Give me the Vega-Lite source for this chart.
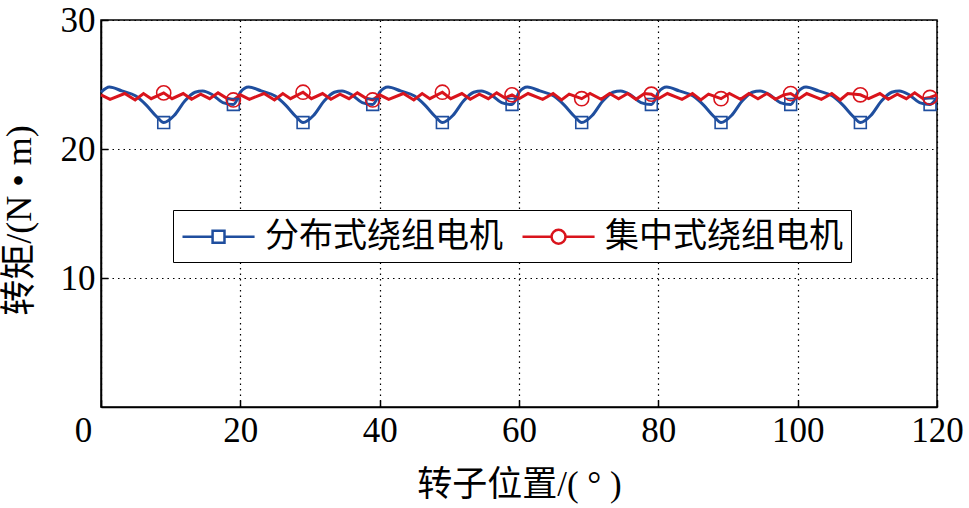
{
  "$schema": "https://vega.github.io/schema/vega-lite/v6.json",
  "autosize": {"type": "none"},
  "padding": {"left": 101, "top": 20, "right": 32, "bottom": 101},
  "width": 836,
  "height": 387,
  "background": "white",
  "config": {
    "view": {"stroke": "black", "strokeWidth": 1.5},
    "font": "Liberation Serif, Noto Sans CJK SC"
  },
  "datasets": {
    "curves": [
      {"series": "分布式绕组电机", "angle": 0, "torque": 24.4},
      {"series": "分布式绕组电机", "angle": 1.2, "torque": 24.8},
      {"series": "分布式绕组电机", "angle": 3, "torque": 24.5},
      {"series": "分布式绕组电机", "angle": 5, "torque": 24.1},
      {"series": "分布式绕组电机", "angle": 6.5, "torque": 23.4},
      {"series": "分布式绕组电机", "angle": 8, "torque": 22.5},
      {"series": "分布式绕组电机", "angle": 9, "torque": 22.05},
      {"series": "分布式绕组电机", "angle": 10.5, "torque": 22.6},
      {"series": "分布式绕组电机", "angle": 12, "torque": 23.7},
      {"series": "分布式绕组电机", "angle": 13.5, "torque": 24.4},
      {"series": "分布式绕组电机", "angle": 14.6, "torque": 24.5},
      {"series": "分布式绕组电机", "angle": 16, "torque": 24.2},
      {"series": "分布式绕组电机", "angle": 17.5, "torque": 23.6},
      {"series": "分布式绕组电机", "angle": 19, "torque": 23.45},
      {"series": "分布式绕组电机", "angle": 19.6, "torque": 23.9},
      {"series": "分布式绕组电机", "angle": 20, "torque": 24.4},
      {"series": "分布式绕组电机", "angle": 21.2, "torque": 24.8},
      {"series": "分布式绕组电机", "angle": 23, "torque": 24.5},
      {"series": "分布式绕组电机", "angle": 25, "torque": 24.1},
      {"series": "分布式绕组电机", "angle": 26.5, "torque": 23.4},
      {"series": "分布式绕组电机", "angle": 28, "torque": 22.5},
      {"series": "分布式绕组电机", "angle": 29, "torque": 22.05},
      {"series": "分布式绕组电机", "angle": 30.5, "torque": 22.6},
      {"series": "分布式绕组电机", "angle": 32, "torque": 23.7},
      {"series": "分布式绕组电机", "angle": 33.5, "torque": 24.4},
      {"series": "分布式绕组电机", "angle": 34.6, "torque": 24.5},
      {"series": "分布式绕组电机", "angle": 36, "torque": 24.2},
      {"series": "分布式绕组电机", "angle": 37.5, "torque": 23.6},
      {"series": "分布式绕组电机", "angle": 39, "torque": 23.45},
      {"series": "分布式绕组电机", "angle": 39.6, "torque": 23.9},
      {"series": "分布式绕组电机", "angle": 40, "torque": 24.4},
      {"series": "分布式绕组电机", "angle": 41.2, "torque": 24.8},
      {"series": "分布式绕组电机", "angle": 43, "torque": 24.5},
      {"series": "分布式绕组电机", "angle": 45, "torque": 24.1},
      {"series": "分布式绕组电机", "angle": 46.5, "torque": 23.4},
      {"series": "分布式绕组电机", "angle": 48, "torque": 22.5},
      {"series": "分布式绕组电机", "angle": 49, "torque": 22.05},
      {"series": "分布式绕组电机", "angle": 50.5, "torque": 22.6},
      {"series": "分布式绕组电机", "angle": 52, "torque": 23.7},
      {"series": "分布式绕组电机", "angle": 53.5, "torque": 24.4},
      {"series": "分布式绕组电机", "angle": 54.6, "torque": 24.5},
      {"series": "分布式绕组电机", "angle": 56, "torque": 24.2},
      {"series": "分布式绕组电机", "angle": 57.5, "torque": 23.6},
      {"series": "分布式绕组电机", "angle": 59, "torque": 23.45},
      {"series": "分布式绕组电机", "angle": 59.6, "torque": 23.9},
      {"series": "分布式绕组电机", "angle": 60, "torque": 24.4},
      {"series": "分布式绕组电机", "angle": 61.2, "torque": 24.8},
      {"series": "分布式绕组电机", "angle": 63, "torque": 24.5},
      {"series": "分布式绕组电机", "angle": 65, "torque": 24.1},
      {"series": "分布式绕组电机", "angle": 66.5, "torque": 23.4},
      {"series": "分布式绕组电机", "angle": 68, "torque": 22.5},
      {"series": "分布式绕组电机", "angle": 69, "torque": 22.05},
      {"series": "分布式绕组电机", "angle": 70.5, "torque": 22.6},
      {"series": "分布式绕组电机", "angle": 72, "torque": 23.7},
      {"series": "分布式绕组电机", "angle": 73.5, "torque": 24.4},
      {"series": "分布式绕组电机", "angle": 74.6, "torque": 24.5},
      {"series": "分布式绕组电机", "angle": 76, "torque": 24.2},
      {"series": "分布式绕组电机", "angle": 77.5, "torque": 23.6},
      {"series": "分布式绕组电机", "angle": 79, "torque": 23.45},
      {"series": "分布式绕组电机", "angle": 79.6, "torque": 23.9},
      {"series": "分布式绕组电机", "angle": 80, "torque": 24.4},
      {"series": "分布式绕组电机", "angle": 81.2, "torque": 24.8},
      {"series": "分布式绕组电机", "angle": 83, "torque": 24.5},
      {"series": "分布式绕组电机", "angle": 85, "torque": 24.1},
      {"series": "分布式绕组电机", "angle": 86.5, "torque": 23.4},
      {"series": "分布式绕组电机", "angle": 88, "torque": 22.5},
      {"series": "分布式绕组电机", "angle": 89, "torque": 22.05},
      {"series": "分布式绕组电机", "angle": 90.5, "torque": 22.6},
      {"series": "分布式绕组电机", "angle": 92, "torque": 23.7},
      {"series": "分布式绕组电机", "angle": 93.5, "torque": 24.4},
      {"series": "分布式绕组电机", "angle": 94.6, "torque": 24.5},
      {"series": "分布式绕组电机", "angle": 96, "torque": 24.2},
      {"series": "分布式绕组电机", "angle": 97.5, "torque": 23.6},
      {"series": "分布式绕组电机", "angle": 99, "torque": 23.45},
      {"series": "分布式绕组电机", "angle": 99.6, "torque": 23.9},
      {"series": "分布式绕组电机", "angle": 100, "torque": 24.4},
      {"series": "分布式绕组电机", "angle": 101.2, "torque": 24.8},
      {"series": "分布式绕组电机", "angle": 103, "torque": 24.5},
      {"series": "分布式绕组电机", "angle": 105, "torque": 24.1},
      {"series": "分布式绕组电机", "angle": 106.5, "torque": 23.4},
      {"series": "分布式绕组电机", "angle": 108, "torque": 22.5},
      {"series": "分布式绕组电机", "angle": 109, "torque": 22.05},
      {"series": "分布式绕组电机", "angle": 110.5, "torque": 22.6},
      {"series": "分布式绕组电机", "angle": 112, "torque": 23.7},
      {"series": "分布式绕组电机", "angle": 113.5, "torque": 24.4},
      {"series": "分布式绕组电机", "angle": 114.6, "torque": 24.5},
      {"series": "分布式绕组电机", "angle": 116, "torque": 24.2},
      {"series": "分布式绕组电机", "angle": 117.5, "torque": 23.6},
      {"series": "分布式绕组电机", "angle": 119, "torque": 23.45},
      {"series": "分布式绕组电机", "angle": 120, "torque": 24.0},

      {"series": "集中式绕组电机", "angle": 0, "torque": 24.2},
      {"series": "集中式绕组电机", "angle": 1.3, "torque": 23.85},
      {"series": "集中式绕组电机", "angle": 3.4, "torque": 24.3},
      {"series": "集中式绕组电机", "angle": 4.9, "torque": 23.8},
      {"series": "集中式绕组电机", "angle": 6.1, "torque": 24.3},
      {"series": "集中式绕组电机", "angle": 7.2, "torque": 23.9},
      {"series": "集中式绕组电机", "angle": 9, "torque": 24.35},
      {"series": "集中式绕组电机", "angle": 10.2, "torque": 23.9},
      {"series": "集中式绕组电机", "angle": 11.8, "torque": 24.3},
      {"series": "集中式绕组电机", "angle": 13, "torque": 23.85},
      {"series": "集中式绕组电机", "angle": 14.3, "torque": 24.25},
      {"series": "集中式绕组电机", "angle": 15.6, "torque": 23.9},
      {"series": "集中式绕组电机", "angle": 16.8, "torque": 24.35},
      {"series": "集中式绕组电机", "angle": 18, "torque": 23.95},
      {"series": "集中式绕组电机", "angle": 19, "torque": 23.8},
      {"series": "集中式绕组电机", "angle": 20, "torque": 24.2},
      {"series": "集中式绕组电机", "angle": 21.3, "torque": 23.85},
      {"series": "集中式绕组电机", "angle": 23.4, "torque": 24.3},
      {"series": "集中式绕组电机", "angle": 24.9, "torque": 23.8},
      {"series": "集中式绕组电机", "angle": 26.1, "torque": 24.3},
      {"series": "集中式绕组电机", "angle": 27.2, "torque": 23.9},
      {"series": "集中式绕组电机", "angle": 29, "torque": 24.4},
      {"series": "集中式绕组电机", "angle": 30.2, "torque": 23.9},
      {"series": "集中式绕组电机", "angle": 31.8, "torque": 24.3},
      {"series": "集中式绕组电机", "angle": 33, "torque": 23.85},
      {"series": "集中式绕组电机", "angle": 34.3, "torque": 24.25},
      {"series": "集中式绕组电机", "angle": 35.6, "torque": 23.9},
      {"series": "集中式绕组电机", "angle": 36.8, "torque": 24.35},
      {"series": "集中式绕组电机", "angle": 38, "torque": 23.95},
      {"series": "集中式绕组电机", "angle": 39, "torque": 23.8},
      {"series": "集中式绕组电机", "angle": 40, "torque": 24.2},
      {"series": "集中式绕组电机", "angle": 41.3, "torque": 23.85},
      {"series": "集中式绕组电机", "angle": 43.4, "torque": 24.3},
      {"series": "集中式绕组电机", "angle": 44.9, "torque": 23.8},
      {"series": "集中式绕组电机", "angle": 46.1, "torque": 24.3},
      {"series": "集中式绕组电机", "angle": 47.2, "torque": 23.9},
      {"series": "集中式绕组电机", "angle": 49, "torque": 24.4},
      {"series": "集中式绕组电机", "angle": 50.2, "torque": 23.9},
      {"series": "集中式绕组电机", "angle": 51.8, "torque": 24.3},
      {"series": "集中式绕组电机", "angle": 53, "torque": 23.85},
      {"series": "集中式绕组电机", "angle": 54.3, "torque": 24.25},
      {"series": "集中式绕组电机", "angle": 55.6, "torque": 23.9},
      {"series": "集中式绕组电机", "angle": 56.8, "torque": 24.35},
      {"series": "集中式绕组电机", "angle": 58, "torque": 23.95},
      {"series": "集中式绕组电机", "angle": 59, "torque": 24.2},
      {"series": "集中式绕组电机", "angle": 60, "torque": 23.9},
      {"series": "集中式绕组电机", "angle": 61.3, "torque": 24.3},
      {"series": "集中式绕组电机", "angle": 63.4, "torque": 23.85},
      {"series": "集中式绕组电机", "angle": 64.9, "torque": 24.3},
      {"series": "集中式绕组电机", "angle": 66.1, "torque": 23.8},
      {"series": "集中式绕组电机", "angle": 67.2, "torque": 24.25},
      {"series": "集中式绕组电机", "angle": 69, "torque": 23.9},
      {"series": "集中式绕组电机", "angle": 70.2, "torque": 24.3},
      {"series": "集中式绕组电机", "angle": 71.8, "torque": 23.85},
      {"series": "集中式绕组电机", "angle": 73, "torque": 24.3},
      {"series": "集中式绕组电机", "angle": 74.3, "torque": 23.9},
      {"series": "集中式绕组电机", "angle": 75.6, "torque": 24.3},
      {"series": "集中式绕组电机", "angle": 76.8, "torque": 23.85},
      {"series": "集中式绕组电机", "angle": 78, "torque": 24.3},
      {"series": "集中式绕组电机", "angle": 79, "torque": 24.25},
      {"series": "集中式绕组电机", "angle": 80, "torque": 23.9},
      {"series": "集中式绕组电机", "angle": 81.3, "torque": 24.3},
      {"series": "集中式绕组电机", "angle": 83.4, "torque": 23.85},
      {"series": "集中式绕组电机", "angle": 84.9, "torque": 24.3},
      {"series": "集中式绕组电机", "angle": 86.1, "torque": 23.8},
      {"series": "集中式绕组电机", "angle": 87.2, "torque": 24.25},
      {"series": "集中式绕组电机", "angle": 89, "torque": 23.9},
      {"series": "集中式绕组电机", "angle": 90.2, "torque": 24.3},
      {"series": "集中式绕组电机", "angle": 91.8, "torque": 23.85},
      {"series": "集中式绕组电机", "angle": 93, "torque": 24.3},
      {"series": "集中式绕组电机", "angle": 94.3, "torque": 23.9},
      {"series": "集中式绕组电机", "angle": 95.6, "torque": 24.3},
      {"series": "集中式绕组电机", "angle": 96.8, "torque": 23.85},
      {"series": "集中式绕组电机", "angle": 98, "torque": 24.2},
      {"series": "集中式绕组电机", "angle": 99, "torque": 24.3},
      {"series": "集中式绕组电机", "angle": 100.2, "torque": 23.9},
      {"series": "集中式绕组电机", "angle": 101.3, "torque": 24.3},
      {"series": "集中式绕组电机", "angle": 103.4, "torque": 23.85},
      {"series": "集中式绕组电机", "angle": 104.9, "torque": 24.3},
      {"series": "集中式绕组电机", "angle": 106.1, "torque": 23.8},
      {"series": "集中式绕组电机", "angle": 107.2, "torque": 24.3},
      {"series": "集中式绕组电机", "angle": 109, "torque": 24.2},
      {"series": "集中式绕组电机", "angle": 110.2, "torque": 23.9},
      {"series": "集中式绕组电机", "angle": 111.8, "torque": 24.3},
      {"series": "集中式绕组电机", "angle": 113, "torque": 23.85},
      {"series": "集中式绕组电机", "angle": 114.3, "torque": 24.25},
      {"series": "集中式绕组电机", "angle": 115.6, "torque": 23.9},
      {"series": "集中式绕组电机", "angle": 116.8, "torque": 24.35},
      {"series": "集中式绕组电机", "angle": 118, "torque": 23.9},
      {"series": "集中式绕组电机", "angle": 119, "torque": 24.0},
      {"series": "集中式绕组电机", "angle": 120, "torque": 24.2}
    ],
    "markers": [
      {"curve": "分布式绕组电机", "angle": 9, "torque": 22.05},
      {"curve": "分布式绕组电机", "angle": 19, "torque": 23.45},
      {"curve": "分布式绕组电机", "angle": 29, "torque": 22.05},
      {"curve": "分布式绕组电机", "angle": 39, "torque": 23.45},
      {"curve": "分布式绕组电机", "angle": 49, "torque": 22.05},
      {"curve": "分布式绕组电机", "angle": 59, "torque": 23.45},
      {"curve": "分布式绕组电机", "angle": 69, "torque": 22.05},
      {"curve": "分布式绕组电机", "angle": 79, "torque": 23.45},
      {"curve": "分布式绕组电机", "angle": 89, "torque": 22.05},
      {"curve": "分布式绕组电机", "angle": 99, "torque": 23.45},
      {"curve": "分布式绕组电机", "angle": 109, "torque": 22.05},
      {"curve": "分布式绕组电机", "angle": 119, "torque": 23.45},
      {"curve": "集中式绕组电机", "angle": 9, "torque": 24.35},
      {"curve": "集中式绕组电机", "angle": 19, "torque": 23.8},
      {"curve": "集中式绕组电机", "angle": 29, "torque": 24.4},
      {"curve": "集中式绕组电机", "angle": 39, "torque": 23.8},
      {"curve": "集中式绕组电机", "angle": 49, "torque": 24.4},
      {"curve": "集中式绕组电机", "angle": 59, "torque": 24.2},
      {"curve": "集中式绕组电机", "angle": 69, "torque": 23.9},
      {"curve": "集中式绕组电机", "angle": 79, "torque": 24.25},
      {"curve": "集中式绕组电机", "angle": 89, "torque": 23.9},
      {"curve": "集中式绕组电机", "angle": 99, "torque": 24.3},
      {"curve": "集中式绕组电机", "angle": 109, "torque": 24.2},
      {"curve": "集中式绕组电机", "angle": 119, "torque": 24.0}
    ]
  },
  "encoding": {
    "x": {
      "field": "angle", "type": "quantitative",
      "scale": {"domain": [0, 120], "nice": false},
      "axis": {
        "title": "转子位置/( ° )",
        "values": [0, 20, 40, 60, 80, 100, 120],
        "labelFont": "Liberation Serif", "labelFontSize": 35, "labelColor": "black",
        "labelPadding": 13,
        "labelOffset": {"condition": {"test": "datum.value === 0", "value": -18}, "value": 0},
        "labelFlush": false,
        "titleFont": "Liberation Serif, Noto Sans CJK SC", "titleFontSize": 35, "titleFontWeight": "normal", "titleColor": "black",
        "titlePadding": 19,
        "domainColor": "black", "domainWidth": 1.5,
        "tickColor": "black", "tickSize": -7, "tickWidth": 1.5,
        "grid": true, "gridColor": "black", "gridDash": [1.5, 4], "gridWidth": 1.2, "gridOpacity": 1
      }
    },
    "y": {
      "field": "torque", "type": "quantitative",
      "scale": {"domain": [0, 30], "nice": false},
      "axis": {
        "title": "转矩/(N • m)",
        "values": [10, 20, 30],
        "labelFont": "Liberation Serif", "labelFontSize": 35, "labelColor": "black",
        "labelPadding": 13,
        "labelFlush": false,
        "titleFont": "Liberation Serif, Noto Sans CJK SC", "titleFontSize": 36, "titleFontWeight": "normal", "titleColor": "black",
        "titlePadding": 22,
        "titleY": 200,
        "domainColor": "black", "domainWidth": 1.5,
        "tickColor": "black", "tickSize": -7, "tickWidth": 1.5,
        "grid": true, "gridColor": "black", "gridDash": [1.5, 4], "gridWidth": 1.2, "gridOpacity": 1
      }
    }
  },
  "layer": [
    {
      "data": {"name": "curves"},
      "encoding": {
        "color": {
          "field": "series", "type": "nominal",
          "scale": {"domain": ["分布式绕组电机", "集中式绕组电机"], "range": ["#1F4E9E", "#D9141C"]},
          "legend": {
            "title": null,
            "orient": "none",
            "legendX": 72,
            "legendY": 190,
            "direction": "horizontal",
            "padding": 8,
            "strokeColor": "black",
            "fillColor": "white",
            "labelFont": "Liberation Serif, Noto Sans CJK SC",
            "labelFontSize": 34,
            "labelColor": "black",
            "labelLimit": 0,
            "labelOffset": 47,
            "columnPadding": 14,
            "symbolType": "M-1,0L0.77,0M1.47,0L3.24,0M0.77,-0.35L1.47,-0.35L1.47,0.35L0.77,0.35Z",
            "symbolSize": 1156,
            "symbolStrokeWidth": 2.5,
            "symbolFillColor": "transparent",
            "encode": {
              "symbols": {
                "update": {
                  "shape": {"signal": "datum.value === '分布式绕组电机' ? 'M-1,0L0.77,0M1.47,0L3.24,0M0.77,-0.35L1.47,-0.35L1.47,0.35L0.77,0.35Z' : 'M-1,0L0.71,0M1.53,0L3.24,0M0.71,0A0.41,0.41,0,1,0,1.53,0A0.41,0.41,0,1,0,0.71,0'"},
                  "size": {"value": 1156},
                  "fill": {"value": "transparent"}
                }
              }
            }
          }
        }
      },
      "layer": [
        {
          "transform": [{"filter": "datum.series === '分布式绕组电机'"}],
          "mark": {"type": "line", "strokeWidth": 3, "interpolate": "monotone"}
        },
        {
          "transform": [{"filter": "datum.series === '集中式绕组电机'"}],
          "mark": {"type": "line", "strokeWidth": 3, "interpolate": "linear"}
        }
      ]
    },
    {
      "data": {"name": "markers"},
      "transform": [{"filter": "datum.curve === '分布式绕组电机'"}],
      "mark": {"type": "point", "shape": "square", "size": 140, "filled": false, "color": "#1F4E9E", "strokeWidth": 1.6, "opacity": 1},
      "encoding": {}
    },
    {
      "data": {"name": "markers"},
      "transform": [{"filter": "datum.curve === '集中式绕组电机'"}],
      "mark": {"type": "point", "shape": "circle", "size": 200, "filled": false, "color": "#D9141C", "strokeWidth": 1.6, "opacity": 1},
      "encoding": {}
    }
  ]
}
